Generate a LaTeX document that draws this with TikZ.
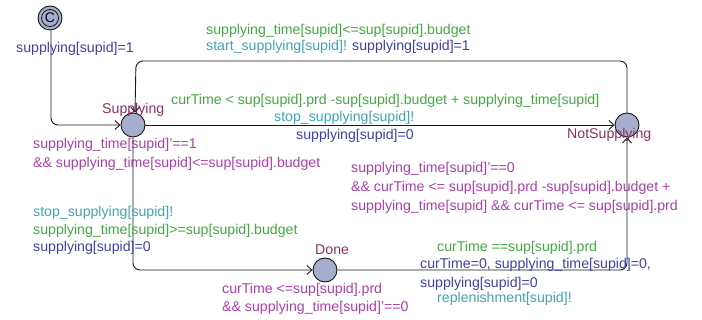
\documentclass[tikz,border=0pt]{standalone}
\usepackage{fontspec}
\setmainfont{Liberation Sans}
\usetikzlibrary{arrows.meta}
\definecolor{cgreen}{RGB}{64,170,64}
\definecolor{ccyan}{RGB}{64,164,180}
\definecolor{cblue}{RGB}{64,64,170}
\definecolor{cmag}{RGB}{170,64,170}
\definecolor{cmaroon}{RGB}{140,50,95}
\definecolor{cfill}{RGB}{166,174,206}
\tikzset{
  loc/.style={circle,draw=black!90,fill=cfill,line width=0.9pt,minimum size=24pt,inner sep=0pt},
  lbl/.style={anchor=base west,inner sep=0pt,font=\fontsize{14.15}{17}\selectfont},
  edge/.style={draw=black!90,line width=0.9pt,rounded corners=7pt,-{Straight Barb[length=5pt,width=9pt]}}
}
\begin{document}
\begin{tikzpicture}[x=1pt,y=-1pt]
\useasboundingbox (0,0) rectangle (702,320);
% locations
\node[loc] (init) at (50,18) {\fontsize{14}{14}\selectfont C};
\draw[black!90,line width=0.8pt] (init.center) circle (8.5pt);
\node[loc] (sup) at (133,125) {};
\node[loc] (ns) at (627,125) {};
\node[loc] (done) at (325,270) {};
% location names
\node[lbl,text=cmaroon] (nsup) at (102,114) {Supplying};
\node[lbl,text=cmaroon] (nns) at (567,139) {NotSupplying};
\node[lbl,text=cmaroon] (ndone) at (315,255) {Done};
% invariants
\node[lbl,text=cmag] (isup1) at (33,149) {supplying\_time[supid]'==1};
\node[lbl,text=cmag] (isup2) at (33,168) {\&\& supplying\_time[supid]<=sup[supid].budget};
\node[lbl,text=cmag] (ins1) at (351,173) {supplying\_time[supid]'==0};
\node[lbl,text=cmag] (ins2) at (351,192) {\&\& curTime <= sup[supid].prd -sup[supid].budget +};
\node[lbl,text=cmag] (ins3) at (351,211) {supplying\_time[supid] \&\& curTime <= sup[supid].prd};
\node[lbl,text=cmag] (idone1) at (222,294) {curTime <=sup[supid].prd};
\node[lbl,text=cmag] (idone2) at (222,312) {\&\& supplying\_time[supid]'==0};
% edges
\coordinate (c1) at (51,125);
\draw[edge] ([xshift=1pt]init.south) -- (c1) -- (sup.west);
\draw[edge] (sup.east) -- (ns.west);
\coordinate (c2) at (627,61);
\coordinate (c3) at (136,61);
\draw[edge] (ns.north) -- (c2) -- (c3) -- ([xshift=2pt]sup.north);
\coordinate (c4) at (133,270);
\draw[edge] (sup.south) -- (c4) -- (done.west);
\coordinate (c5) at (627,270);
\draw[edge] (done.east) -- (c5) -- (ns.south);
% edge labels
\node[lbl,text=cblue] (l0) at (16,53) {supplying[supid]=1};
\node[lbl,text=cgreen] (l1) at (206,35) {supplying\_time[supid]<=sup[supid].budget};
\node[lbl] (l2) at (206,51) {\textcolor{ccyan}{start\_supplying[supid]!} \textcolor{cblue}{supplying[supid]=1}};
\node[lbl,text=cgreen] (l3) at (171,105) {curTime < sup[supid].prd -sup[supid].budget + supplying\_time[supid]};
\node[lbl,text=ccyan] (l4) at (274,122) {stop\_supplying[supid]!};
\node[lbl,text=cblue] (l5) at (296,140) {supplying[supid]=0};
\node[lbl,text=ccyan] (l6) at (33,217) {stop\_supplying[supid]!};
\node[lbl,text=cgreen] (l7) at (33,235) {supplying\_time[supid]>=sup[supid].budget};
\node[lbl,text=cblue] (l8) at (33,252) {supplying[supid]=0};
\node[lbl,text=cgreen] (l9) at (437,252) {curTime ==sup[supid].prd};
\node[lbl,text=cblue] (l10) at (420,269) {curTime=0, supplying\_time[supid]=0,};
\node[lbl,text=cblue] (l11) at (420,288) {supplying[supid]=0};
\node[lbl,text=ccyan] (l12) at (437,303) {replenishment[supid]!};
\end{tikzpicture}
\end{document}
